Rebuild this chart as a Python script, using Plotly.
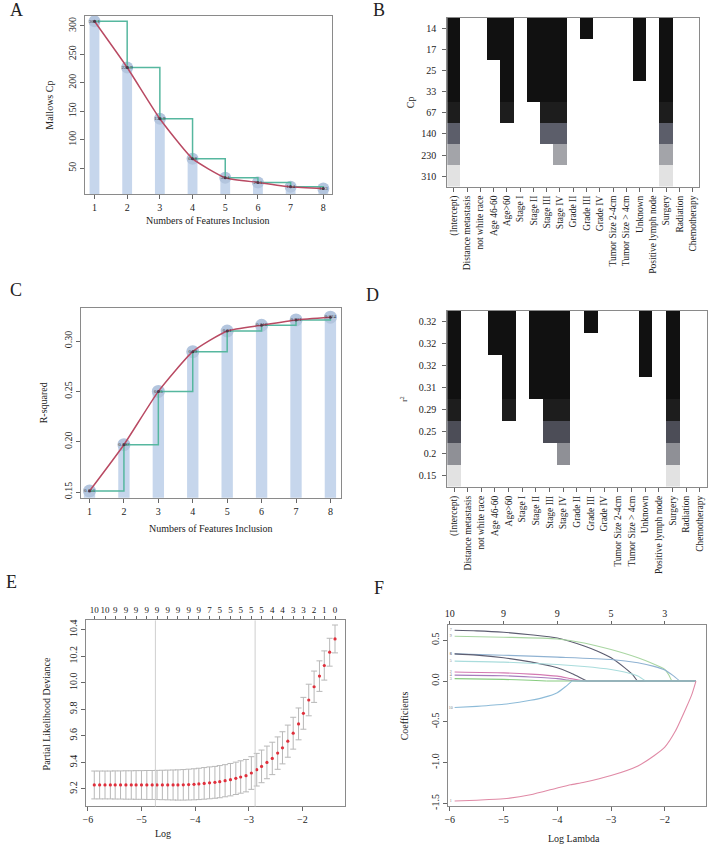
import plotly.graph_objects as go

# ---------------- data ----------------
n_features = [1, 2, 3, 4, 5, 6, 7, 8]
cp_values = [308.1, 226.9, 136.9, 66.8, 33.4, 25.1, 17.4, 14.3]
cp_labels = ["308.1", "226.9", "136.9", "66.8", "33.4", "25.1", "17.4", "14.3"]
r2_values = [0.151, 0.197, 0.250, 0.2895, 0.310, 0.3157, 0.321, 0.3237]
r2_labels = ["0.151", "0.197", "0.25", "0.29", "0.31", "0.316", "0.321", "0.324"]

variables = ["(Intercept)", "Distance metastasis", "not white race", "Age 46-60", "Age>60",
             "Stage I", "Stage II", "Stage III", "Stage IV", "Grade II", "Grade III",
             "Grade IV", "Tumor Size 2-4cm", "Tumor Size > 4cm", "Unknown",
             "Positive lymph node", "Surgery", "Radiation", "Chemotherapy"]
cp_row_labels = ["14", "17", "25", "33", "67", "140", "230", "310"]
r2_row_labels = ["0.32", "0.32", "0.32", "0.31", "0.29", "0.25", "0.2", "0.15"]
model_vars = [
    ["(Intercept)", "Age 46-60", "Age>60", "Stage II", "Stage III", "Stage IV", "Grade III", "Unknown", "Surgery"],
    ["(Intercept)", "Age 46-60", "Age>60", "Stage II", "Stage III", "Stage IV", "Unknown", "Surgery"],
    ["(Intercept)", "Age>60", "Stage II", "Stage III", "Stage IV", "Unknown", "Surgery"],
    ["(Intercept)", "Age>60", "Stage II", "Stage III", "Stage IV", "Surgery"],
    ["(Intercept)", "Age>60", "Stage III", "Stage IV", "Surgery"],
    ["(Intercept)", "Stage III", "Stage IV", "Surgery"],
    ["(Intercept)", "Stage IV", "Surgery"],
    ["(Intercept)", "Surgery"],
]
cp_row_colors = ["#111111", "#111111", "#111111", "#111111", "#1d1d1d", "#5c5e6a", "#a3a4a9", "#e2e2e2"]
r2_row_colors = ["#111111", "#111111", "#111111", "#111111", "#1d1d1d", "#4c4d57", "#8f9096", "#e2e2e2"]

cv_loglambda = [-5.88, -5.78, -5.68, -5.58, -5.49, -5.39, -5.29, -5.19, -5.10, -5.00,
                -4.90, -4.80, -4.71, -4.61, -4.51, -4.41, -4.32, -4.22, -4.12, -4.02,
                -3.93, -3.83, -3.73, -3.63, -3.54, -3.44, -3.34, -3.24, -3.15, -3.05,
                -2.95, -2.85, -2.76, -2.66, -2.56, -2.46, -2.37, -2.27, -2.17, -2.07,
                -1.98, -1.88, -1.78, -1.68, -1.59, -1.49, -1.39]
cv_mean = [9.230, 9.230, 9.230, 9.230, 9.230, 9.230, 9.230, 9.230, 9.230, 9.230,
           9.230, 9.230, 9.230, 9.230, 9.230, 9.230, 9.230, 9.231, 9.233, 9.235,
           9.238, 9.242, 9.246, 9.250, 9.255, 9.262, 9.270, 9.280, 9.290, 9.300,
           9.320, 9.345, 9.370, 9.400, 9.430, 9.470, 9.510, 9.560, 9.620, 9.690,
           9.770, 9.870, 9.970, 10.050, 10.130, 10.230, 10.330]
cv_sd = [0.105, 0.105, 0.105, 0.105, 0.106, 0.106, 0.107, 0.107, 0.108, 0.108,
         0.109, 0.109, 0.110, 0.111, 0.112, 0.113, 0.114, 0.115, 0.116, 0.117,
         0.118, 0.119, 0.120, 0.120, 0.121, 0.121, 0.122, 0.122, 0.122, 0.122,
         0.123, 0.123, 0.123, 0.123, 0.122, 0.122, 0.121, 0.121, 0.120, 0.120,
         0.120, 0.119, 0.118, 0.115, 0.110, 0.105, 0.105]
cv_top_labels = ["10", "10", "9", "9", "9", "9", "9", "9", "9", "9", "9", "7",
                 "5", "5", "5", "5", "5", "4", "4", "3", "3", "2", "1", "0"]
lambda_min = -4.74
lambda_1se = -2.88

coef_paths = [
    ("7", "#5b5b6f", [-5.91, -5.5, -5.0, -4.5, -4.0, -3.5, -3.25, -3.0, -2.75, -2.6, -2.51, -1.42],
     [0.622, 0.615, 0.598, 0.568, 0.528, 0.43, 0.365, 0.285, 0.165, 0.08, 0.0, 0.0]),
    ("9", "#a9d6a2", [-5.91, -5.0, -4.0, -3.5, -3.0, -2.5, -2.25, -2.0, -1.93, -1.87, -1.42],
     [0.549, 0.537, 0.516, 0.467, 0.386, 0.285, 0.22, 0.142, 0.08, 0.0, 0.0]),
    ("8", "#8fb2d2", [-5.91, -5.0, -4.0, -3.0, -2.5, -2.2, -2.0, -1.85, -1.72, -1.42],
     [0.333, 0.317, 0.293, 0.264, 0.224, 0.18, 0.135, 0.07, 0.0, 0.0]),
    ("6", "#5f5f72", [-5.91, -5.5, -5.0, -4.5, -4.0, -3.75, -3.6, -3.45, -1.42],
     [0.333, 0.318, 0.285, 0.235, 0.163, 0.10, 0.05, 0.0, 0.0]),
    ("5", "#a9dcdc", [-5.91, -5.0, -4.0, -3.5, -3.0, -2.75, -2.5, -2.36, -1.42],
     [0.244, 0.232, 0.203, 0.178, 0.142, 0.11, 0.061, 0.0, 0.0]),
    ("2", "#d47ab2", [-5.91, -5.0, -4.5, -4.0, -3.75, -3.5, -1.42],
     [0.11, 0.10, 0.085, 0.06, 0.03, 0.0, 0.0]),
    ("4", "#a77cbc", [-5.91, -5.0, -4.5, -4.0, -3.8, -3.6, -1.42],
     [0.073, 0.065, 0.05, 0.03, 0.012, 0.0, 0.0]),
    ("3", "#88cc80", [-5.91, -5.0, -4.5, -4.2, -1.42],
     [0.03, 0.02, 0.01, 0.0, 0.0]),
    ("10", "#8dbbd8", [-5.91, -5.5, -5.0, -4.5, -4.25, -4.0, -3.85, -3.73, -1.42],
     [-0.325, -0.31, -0.285, -0.236, -0.2, -0.142, -0.07, 0.0, 0.0]),
    ("1", "#e08aa6", [-5.91, -5.5, -5.0, -4.5, -4.0, -3.75, -3.5, -3.0, -2.5, -2.2, -2.0, -1.8, -1.6, -1.5, -1.42],
     [-1.47, -1.46, -1.443, -1.394, -1.31, -1.27, -1.24, -1.158, -1.04, -0.915, -0.81, -0.61, -0.325, -0.17, 0.0]),
]
coef_top_pos = [-6, -5, -4, -3, -2]
coef_top_labels = ["10", "9", "9", "5", "3"]

# ---------------- styles ----------------
W, H = 709, 847
FONT = "Liberation Serif"
BAR_C = "#c6d6ec"
DOT_C = "#b3c5de"
STEP_C = "#56b79f"
RED_C = "#b94a63"


def px_x(p):
    return p / W


def px_y(p):
    return 1 - p / H


axis_style = dict(showline=True, mirror=True, linecolor="#8a8a8a", linewidth=1,
                  ticks="outside", ticklen=4, tickcolor="#666", showgrid=False,
                  zeroline=False, tickfont=dict(family=FONT, size=10, color="#222"))

fig = go.Figure()


def add_selection_panel(xa, ya, vals, labels, barw, dotsize):
    fig.add_trace(go.Bar(x=n_features, y=vals, width=barw, marker=dict(color=BAR_C, line=dict(width=0)),
                         xaxis=xa, yaxis=ya, hoverinfo="skip"))
    fig.add_trace(go.Scatter(x=n_features, y=vals, mode="markers",
                             marker=dict(size=dotsize, color=DOT_C), xaxis=xa, yaxis=ya, hoverinfo="skip"))
    fig.add_trace(go.Scatter(x=n_features, y=vals, mode="lines", line=dict(color=STEP_C, width=1.5, shape="hv"),
                             xaxis=xa, yaxis=ya, hoverinfo="skip"))
    fig.add_trace(go.Scatter(x=n_features, y=vals, mode="lines+markers",
                             line=dict(color=RED_C, width=1.5, shape="spline", smoothing=0.5),
                             marker=dict(size=3, color="#5a3a50"), xaxis=xa, yaxis=ya, hoverinfo="skip"))
    fig.add_trace(go.Scatter(x=n_features, y=vals, mode="text", text=labels,
                             textfont=dict(size=5, color="#333", family=FONT), xaxis=xa, yaxis=ya,
                             hoverinfo="skip"))


add_selection_panel("x", "y", cp_values, cp_labels, 0.3, 12)
add_selection_panel("x3", "y3", r2_values, r2_labels, 0.33, 13)


# ---------- B & D heatmaps ----------
def build_z():
    z = []
    for i, incl in enumerate(model_vars):
        z.append([i if v in incl else None for v in variables])
    return z


def discrete_scale(colors):
    n = len(colors)
    sc = []
    for i, c in enumerate(colors):
        sc.append([i / n, c])
        sc.append([(i + 1) / n, c])
    return sc


zmat = build_z()
fig.add_trace(go.Heatmap(z=zmat, x=list(range(len(variables))), y=list(range(len(model_vars))),
                         colorscale=discrete_scale(cp_row_colors), zmin=-0.5, zmax=7.5, showscale=False,
                         xaxis="x2", yaxis="y2", hoverinfo="skip"))
fig.add_trace(go.Heatmap(z=zmat, x=list(range(len(variables))), y=list(range(len(model_vars))),
                         colorscale=discrete_scale(r2_row_colors), zmin=-0.5, zmax=7.5, showscale=False,
                         xaxis="x4", yaxis="y4", hoverinfo="skip"))

# ---------- E ----------
fig.add_trace(go.Scatter(x=cv_loglambda, y=cv_mean, mode="markers",
                         marker=dict(size=3.2, color="#e0303c"),
                         error_y=dict(type="data", array=cv_sd, color="#b8b8b8", thickness=1, width=3),
                         xaxis="x5", yaxis="y5", hoverinfo="skip"))
top_pos_e = cv_loglambda[::2]
fig.add_trace(go.Scatter(x=top_pos_e, y=[cv_mean[0]] * len(top_pos_e), mode="markers",
                         marker=dict(size=1, opacity=0), xaxis="x7", yaxis="y5", hoverinfo="skip"))

# ---------- F ----------
for lab, col, xs, ys in coef_paths:
    # smooth non-zero part, then flat tail at zero
    k = ys.index(0.0) if 0.0 in ys else len(ys) - 1
    fig.add_trace(go.Scatter(x=xs[:k + 1], y=ys[:k + 1], mode="lines",
                             line=dict(color=col, width=1.1, shape="spline", smoothing=0.6),
                             xaxis="x6", yaxis="y6", hoverinfo="skip"))
    if k < len(ys) - 1:
        fig.add_trace(go.Scatter(x=xs[k:], y=ys[k:], mode="lines", line=dict(color=col, width=1.1),
                                 xaxis="x6", yaxis="y6", hoverinfo="skip"))
    fig.add_trace(go.Scatter(x=[xs[0] - 0.07], y=[ys[0]], mode="text", text=[lab],
                             textfont=dict(size=4, color="#777", family=FONT),
                             xaxis="x6", yaxis="y6", hoverinfo="skip"))
fig.add_trace(go.Scatter(x=coef_top_pos, y=[0] * len(coef_top_pos), mode="markers",
                         marker=dict(size=1, opacity=0), xaxis="x8", yaxis="y6", hoverinfo="skip"))

# ---------------- layout ----------------
layout = dict(width=W, height=H, margin=dict(l=0, r=0, t=0, b=0), paper_bgcolor="white",
              plot_bgcolor="white", showlegend=False, font=dict(family=FONT, size=10, color="#222"))

# A
layout["xaxis"] = dict(axis_style, domain=[px_x(81), px_x(330)], range=[0.696, 8.27], anchor="y",
                       tickvals=n_features)
layout["yaxis"] = dict(axis_style, domain=[px_y(194), px_y(15)], range=[4.6, 317.5], anchor="x",
                       tickvals=[50, 100, 150, 200, 250, 300], tickangle=-90)
# B
layout["xaxis2"] = dict(axis_style, domain=[px_x(445.7), px_x(699.3)], range=[-0.5, 18.5], anchor="y2",
                        tickvals=list(range(len(variables))), ticktext=variables, tickangle=-90,
                        tickfont=dict(family=FONT, size=9.5, color="#222"))
layout["yaxis2"] = dict(axis_style, domain=[px_y(186.7), px_y(16.7)], range=[7.5, -0.5], anchor="x2",
                        tickvals=list(range(8)), ticktext=cp_row_labels, ticklabelstandoff=4)
# C
layout["xaxis3"] = dict(axis_style, domain=[px_x(77), px_x(339)], range=[0.74, 8.31], anchor="y3",
                        tickvals=n_features)
layout["yaxis3"] = dict(axis_style, domain=[px_y(499), px_y(308)], range=[0.1444, 0.3333], anchor="x3",
                        tickvals=[0.15, 0.20, 0.25, 0.30], ticktext=["0.15", "0.20", "0.25", "0.30"],
                        tickangle=-90)
# D
layout["xaxis4"] = dict(axis_style, domain=[px_x(445.7), px_x(706.7)], range=[-0.5, 18.5], anchor="y4",
                        tickvals=list(range(len(variables))), ticktext=variables, tickangle=-90,
                        tickfont=dict(family=FONT, size=9.5, color="#222"))
layout["yaxis4"] = dict(axis_style, domain=[px_y(488.3), px_y(311)], range=[7.5, -0.5], anchor="x4",
                        tickvals=list(range(8)), ticktext=r2_row_labels, ticklabelstandoff=4)
# E
layout["xaxis5"] = dict(axis_style, domain=[px_x(82.7), px_x(343.3)], range=[-6.03, -1.197], anchor="y5",
                        tickvals=[-6, -5, -4, -3, -2])
layout["yaxis5"] = dict(axis_style, domain=[px_y(809.3), px_y(622.3)], range=[9.068, 10.47], anchor="x5",
                        tickvals=[9.2, 9.4, 9.6, 9.8, 10.0, 10.2, 10.4],
                        ticktext=["9.2", "9.4", "9.6", "9.8", "10.0", "10.2", "10.4"], tickangle=-90)
layout["xaxis7"] = dict(axis_style, overlaying="x5", side="top", anchor="y5", range=[-6.03, -1.197],
                        tickvals=top_pos_e, ticktext=cv_top_labels, ticklen=3, showline=False,
                        tickangle=0, tickfont=dict(family=FONT, size=9, color="#222"))
# F
layout["xaxis6"] = dict(axis_style, domain=[px_x(446.7), px_x(706)], range=[-6.03, -1.233], anchor="y6",
                        tickvals=[-6, -5, -4, -3, -2])
layout["yaxis6"] = dict(axis_style, domain=[px_y(809.3), px_y(626.7)], range=[-1.537, 0.69], anchor="x6",
                        tickvals=[-1.5, -1.0, -0.5, 0.0, 0.5], ticktext=["-1.5", "-1.0", "-0.5", "0.0", "0.5"],
                        tickangle=-90)
layout["xaxis8"] = dict(axis_style, overlaying="x6", side="top", anchor="y6", range=[-6.03, -1.233],
                        tickvals=coef_top_pos, ticktext=coef_top_labels, ticklen=3, showline=False,
                        tickangle=0)

fig.update_layout(**layout)

# vertical lines in E
for xv in [lambda_min, lambda_1se]:
    fig.add_shape(type="line", xref="x5", yref="y5 domain", x0=xv, x1=xv, y0=0, y1=1,
                  line=dict(color="#cfcfcf", width=1))

# annotations: titles and panel letters
ann = []


def add_text(text, x, y, size=10, angle=0):
    ann.append(dict(text=text, x=px_x(x), y=px_y(y), xref="paper", yref="paper", showarrow=False,
                    textangle=angle, font=dict(family=FONT, size=size, color="#222"),
                    xanchor="center", yanchor="middle"))


add_text("Mallows Cp", 45, 104.5, angle=-90)
add_text("Numbers of Features Inclusion", 205.5, 221)
add_text("Cp", 409, 102, angle=-90)
add_text("R-squared", 40, 403.5, angle=-90)
add_text("Numbers of Features Inclusion", 208, 530)
add_text("r<sup>2</sup>", 402, 400, size=8, angle=-90)
add_text("Partial Likelihood Deviance", 43, 716, angle=-90)
add_text("Log", 160, 836)
add_text("Coefficients", 403, 718, angle=-90)
add_text("Log Lambda", 573, 841)
for letter, x, y in [("A", 13, 9), ("B", 377, 9), ("C", 12, 290), ("D", 371, 295), ("E", 8, 584), ("F", 377, 590)]:
    add_text(letter, x, y, size=18)

fig.update_layout(annotations=ann)
fig.write_html("out.html")
